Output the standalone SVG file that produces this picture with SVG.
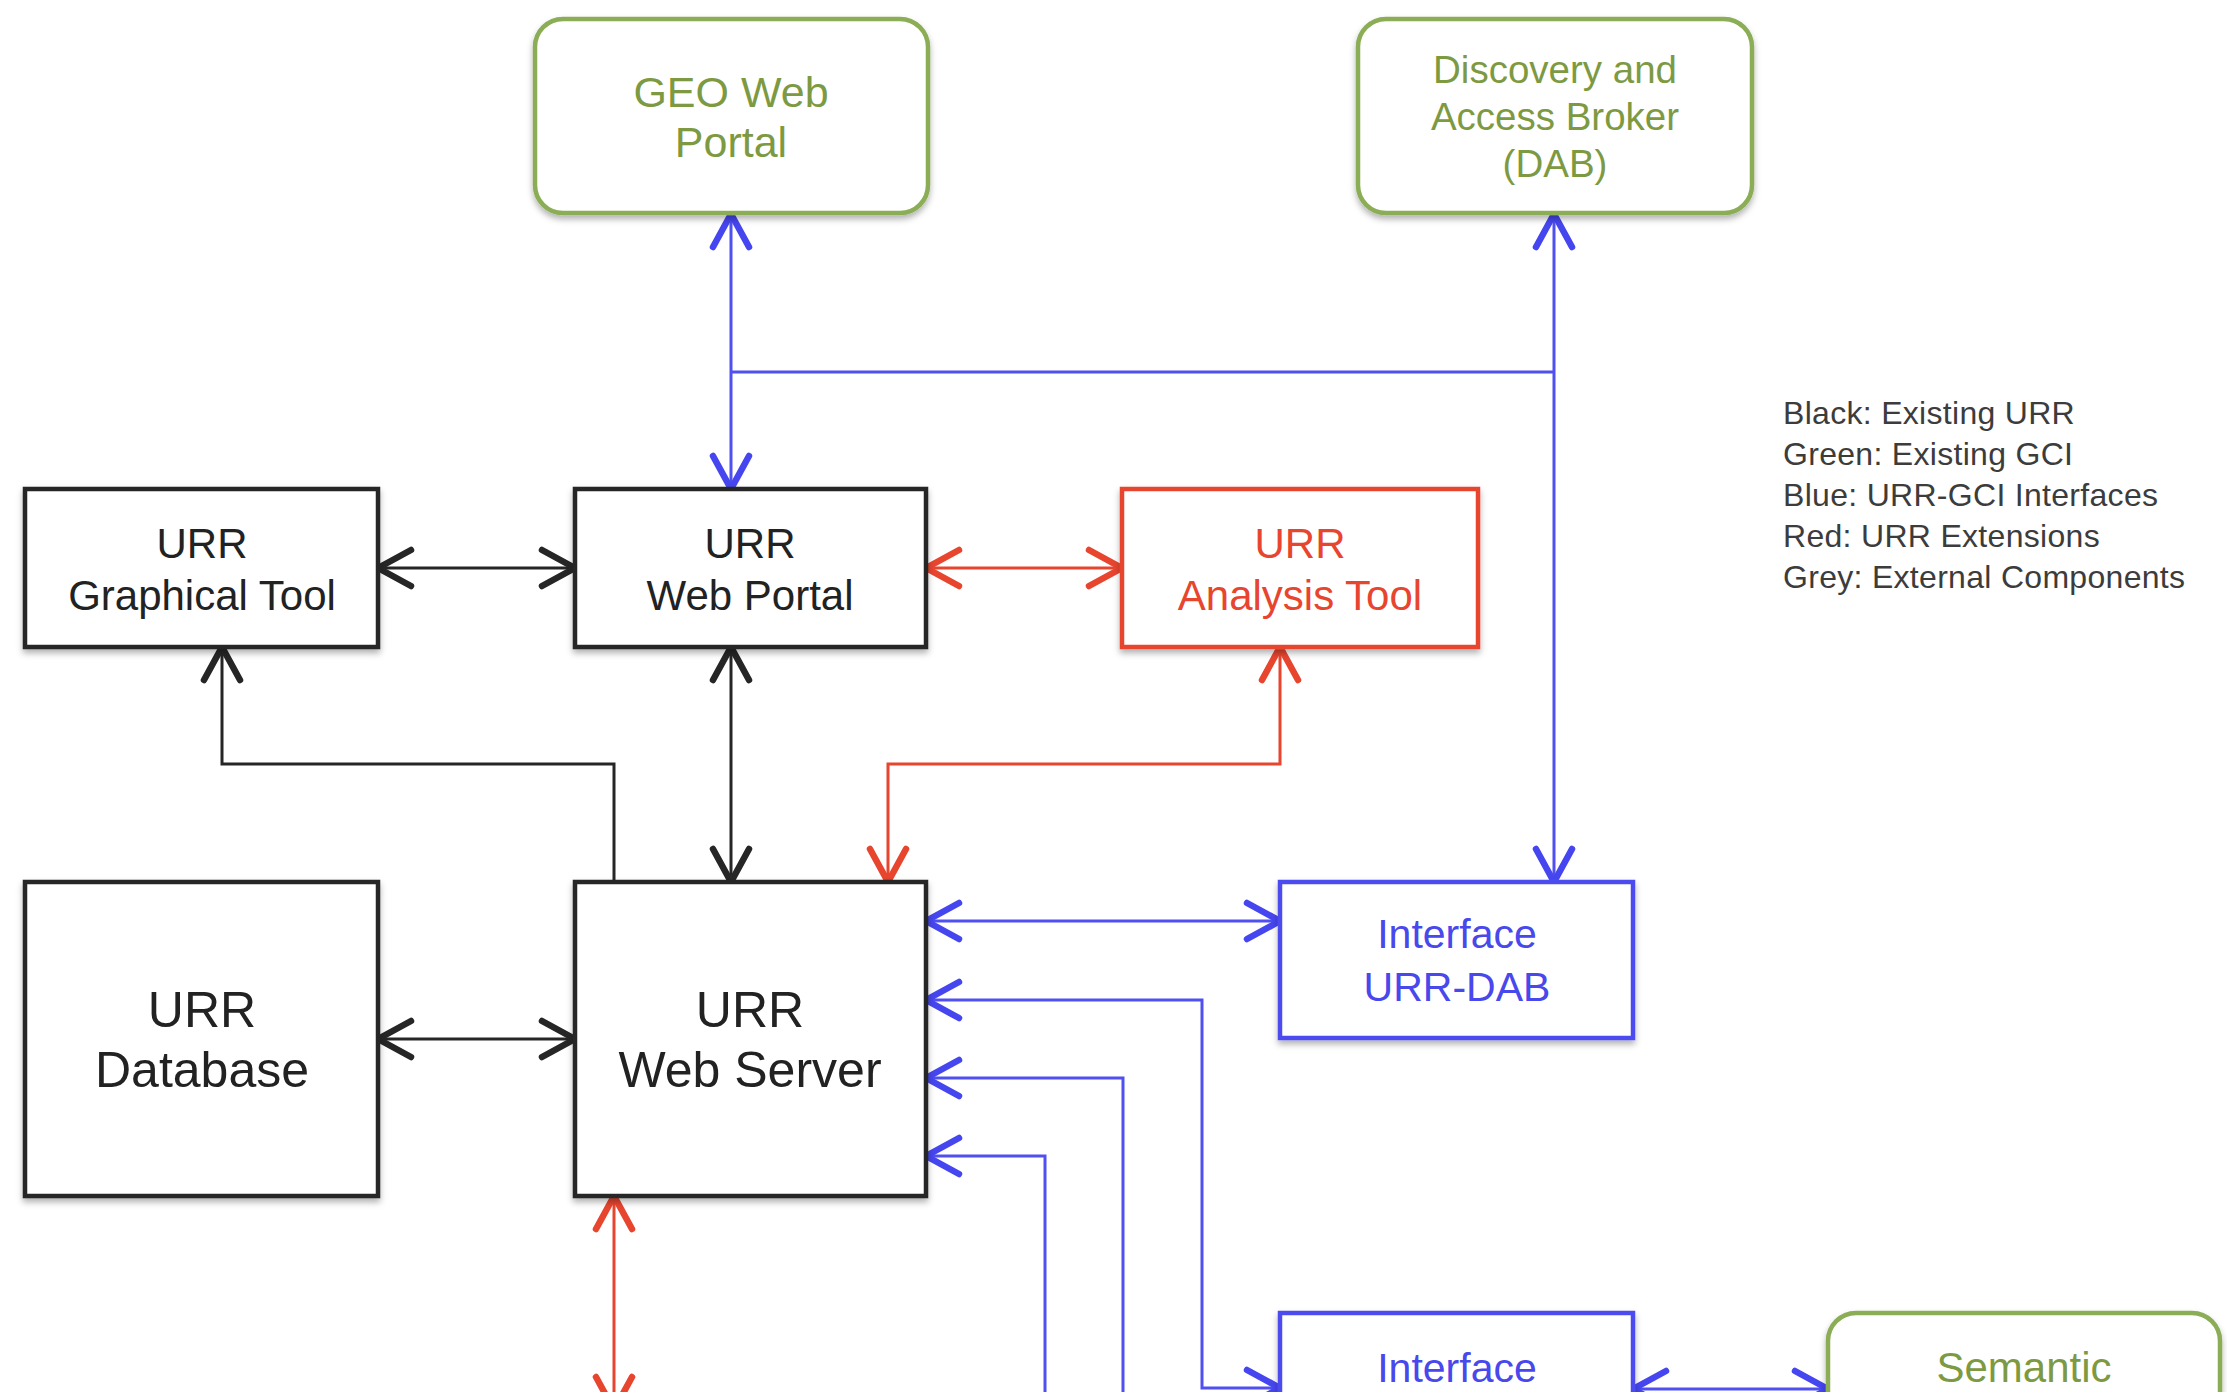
<svg xmlns="http://www.w3.org/2000/svg" width="2227" height="1398" viewBox="0 0 2227 1398">
<style>
.box{fill:#fff;stroke-width:4.5;filter:url(#sh)}
.kb{stroke:#262626}
.rb{stroke:#e8452f}
.bb{stroke:#4c4cf0}
.gb{stroke:#8aad55}
.t{font-family:"Liberation Sans",Arial,Helvetica,sans-serif;text-anchor:middle}
.kt{fill:#222}
.rt{fill:#e8452f}
.bt{fill:#4848ec}
.gt{fill:#7d9a42}
.c{fill:none;stroke-width:3}
.ck{stroke:#262626}
.cr{stroke:#e8452f}
.cb{stroke:#5050f2}
.lg{font-family:"Liberation Sans",Arial,Helvetica,sans-serif;font-size:32px;letter-spacing:0.3px;fill:#3c3c3c}
</style>
<defs>
<filter id="sh" x="-10%" y="-10%" width="120%" height="130%">
<feDropShadow dx="0" dy="4" stdDeviation="3" flood-color="#000" flood-opacity="0.3"/>
</filter>
<marker id="mk" markerUnits="userSpaceOnUse" viewBox="-40 -25 45 50" refX="0" refY="0" markerWidth="45" markerHeight="50" orient="auto-start-reverse" overflow="visible">
<path d="M-33,-18 L0,0 L-33,18" fill="none" stroke="#262626" stroke-width="6.5" stroke-linecap="round" stroke-linejoin="round"/>
</marker>
<marker id="mr" markerUnits="userSpaceOnUse" viewBox="-40 -25 45 50" refX="0" refY="0" markerWidth="45" markerHeight="50" orient="auto-start-reverse" overflow="visible">
<path d="M-33,-18 L0,0 L-33,18" fill="none" stroke="#e8452f" stroke-width="6.5" stroke-linecap="round" stroke-linejoin="round"/>
</marker>
<marker id="mb" markerUnits="userSpaceOnUse" viewBox="-40 -25 45 50" refX="0" refY="0" markerWidth="45" markerHeight="50" orient="auto-start-reverse" overflow="visible">
<path d="M-33,-18 L0,0 L-33,18" fill="none" stroke="#4646f0" stroke-width="6.5" stroke-linecap="round" stroke-linejoin="round"/>
</marker>
<clipPath id="clip"><rect x="0" y="0" width="2227" height="1392"/></clipPath>
</defs>
<rect x="0" y="0" width="2227" height="1398" fill="#fff"/>
<g clip-path="url(#clip)">
<g id="connectors">
<path class="c ck" d="M378,568 H575" marker-start="url(#mk)" marker-end="url(#mk)"/>
<path class="c ck" d="M731,647 V882" marker-start="url(#mk)" marker-end="url(#mk)"/>
<path class="c ck" d="M614,882 V764 H222 V647" marker-end="url(#mk)"/>
<path class="c ck" d="M378,1039 H575" marker-start="url(#mk)" marker-end="url(#mk)"/>
<path class="c cr" d="M926,568 H1122" marker-start="url(#mr)" marker-end="url(#mr)"/>
<path class="c cr" d="M1280,647 V764 H888 V882" marker-start="url(#mr)" marker-end="url(#mr)"/>
<path class="c cr" d="M614,1196 V1410" marker-start="url(#mr)" marker-end="url(#mr)"/>
<path class="c cb" d="M731,214 V489" marker-start="url(#mb)" marker-end="url(#mb)"/>
<path class="c cb" d="M731,372 H1554"/>
<path class="c cb" d="M1554,214 V882" marker-start="url(#mb)" marker-end="url(#mb)"/>
<path class="c cb" d="M926,921 H1280" marker-start="url(#mb)" marker-end="url(#mb)"/>
<path class="c cb" d="M1280,1388 H1202 V1000 H926" marker-start="url(#mb)" marker-end="url(#mb)"/>
<path class="c cb" d="M1123,1420 V1078 H926" marker-end="url(#mb)"/>
<path class="c cb" d="M1045,1420 V1156 H926" marker-end="url(#mb)"/>
<path class="c cb" d="M1633,1389 H1828" marker-start="url(#mb)" marker-end="url(#mb)"/>
</g>
<g id="geo-web-portal">
<rect class="box gb" x="535" y="19" width="393" height="194" rx="28"/>
<text class="t gt" font-size="43" x="731" y="107">GEO Web</text>
<text class="t gt" font-size="43" x="731" y="157">Portal</text>
</g>
<g id="dab">
<rect class="box gb" x="1358" y="19" width="394" height="194" rx="28"/>
<text class="t gt" font-size="38.5" x="1555" y="83">Discovery and</text>
<text class="t gt" font-size="38.5" x="1555" y="130">Access Broker</text>
<text class="t gt" font-size="38.5" x="1555" y="177">(DAB)</text>
</g>
<g id="urr-graphical-tool">
<rect class="box kb" x="25" y="489" width="353" height="158"/>
<text class="t kt" font-size="42" x="202" y="558">URR</text>
<text class="t kt" font-size="42" x="202" y="610">Graphical Tool</text>
</g>
<g id="urr-web-portal">
<rect class="box kb" x="575" y="489" width="351" height="158"/>
<text class="t kt" font-size="42" x="750" y="558">URR</text>
<text class="t kt" font-size="42" x="750" y="610">Web Portal</text>
</g>
<g id="urr-analysis-tool">
<rect class="box rb" x="1122" y="489" width="356" height="158"/>
<text class="t rt" font-size="42" x="1300" y="558">URR</text>
<text class="t rt" font-size="42" x="1300" y="610">Analysis Tool</text>
</g>
<g id="urr-database">
<rect class="box kb" x="25" y="882" width="353" height="314"/>
<text class="t kt" font-size="50" x="202" y="1027">URR</text>
<text class="t kt" font-size="50" x="202" y="1087">Database</text>
</g>
<g id="urr-web-server">
<rect class="box kb" x="575" y="882" width="351" height="314"/>
<text class="t kt" font-size="50" x="750" y="1027">URR</text>
<text class="t kt" font-size="50" x="750" y="1087">Web Server</text>
</g>
<g id="interface-urr-dab">
<rect class="box bb" x="1280" y="882" width="353" height="156"/>
<text class="t bt" font-size="41" x="1457" y="948">Interface</text>
<text class="t bt" font-size="41" x="1457" y="1001">URR-DAB</text>
</g>
<g id="interface-bottom">
<rect class="box bb" x="1280" y="1313" width="353" height="156"/>
<text class="t bt" font-size="41" x="1457" y="1382">Interface</text>
</g>
<g id="semantic">
<rect class="box gb" x="1828" y="1313" width="392" height="194" rx="28"/>
<text class="t gt" font-size="42" x="2024" y="1382">Semantic</text>
</g>
<g id="legend">
<text class="lg" x="1783" y="424">Black: Existing URR</text>
<text class="lg" x="1783" y="465">Green: Existing GCI</text>
<text class="lg" x="1783" y="506">Blue: URR-GCI Interfaces</text>
<text class="lg" x="1783" y="547">Red: URR Extensions</text>
<text class="lg" x="1783" y="588">Grey: External Components</text>
</g>
</g>
</svg>
